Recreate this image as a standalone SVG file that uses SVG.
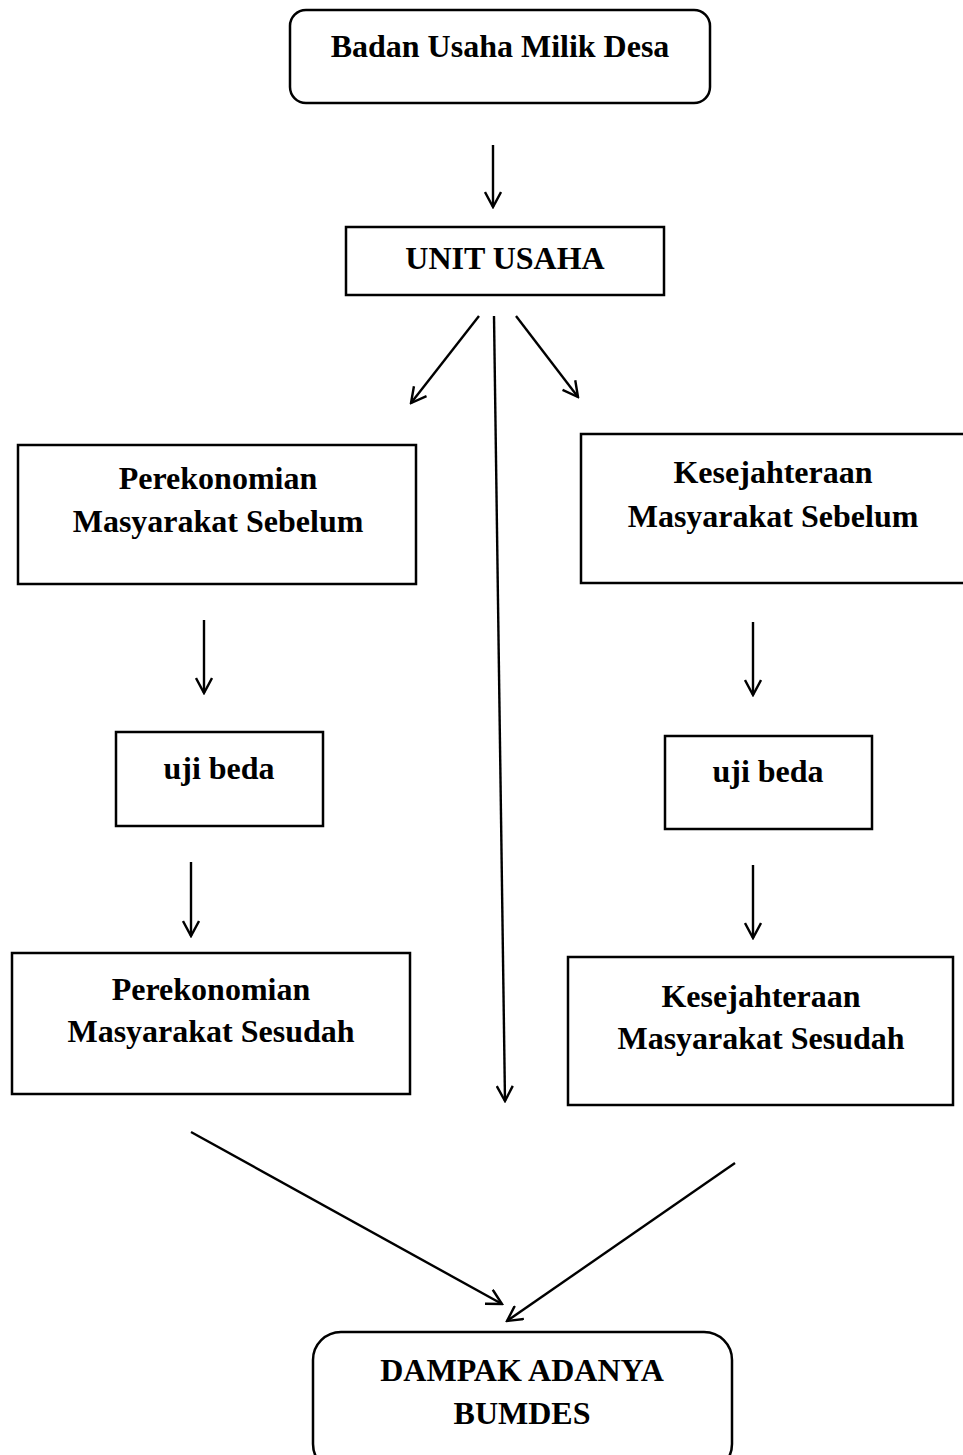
<svg xmlns="http://www.w3.org/2000/svg" width="963" height="1455" viewBox="0 0 963 1455">
<style>
.box{fill:#fff;stroke:#000;stroke-width:2.5}
.t{font-family:"Liberation Serif","Times New Roman",serif;font-weight:bold;font-size:32px;fill:#000;text-anchor:middle}
.c{stroke:#000;stroke-width:2.4;fill:none;marker-end:url(#ah)}
</style>
<defs>
<marker id="ah" viewBox="-16 -9 18 18" refX="0" refY="0" markerWidth="18" markerHeight="18" markerUnits="userSpaceOnUse" orient="auto">
<polyline points="-15,-8 0,0 -15,8" fill="none" stroke="#000" stroke-width="2.4"/>
</marker>
</defs>
<rect width="963" height="1455" fill="#fff"/>
<g id="connectors">
<line class="c" x1="493" y1="145" x2="493" y2="207"/>
<line class="c" x1="479" y1="316" x2="411" y2="403"/>
<line class="c" x1="494" y1="316" x2="505" y2="1101"/>
<line class="c" x1="516" y1="316" x2="578" y2="397"/>
<line class="c" x1="204" y1="620" x2="204" y2="693"/>
<line class="c" x1="753" y1="622" x2="753" y2="695"/>
<line class="c" x1="191" y1="862" x2="191" y2="936"/>
<line class="c" x1="753" y1="865" x2="753" y2="938"/>
<line class="c" x1="191" y1="1132" x2="502" y2="1304"/>
<line class="c" x1="735" y1="1163" x2="507" y2="1321"/>
</g>
<g id="n1"><rect class="box" x="290" y="10" width="420" height="93" rx="16"/><text class="t" x="500" y="57">Badan Usaha Milik Desa</text></g>
<g id="n2"><rect class="box" x="346" y="227" width="318" height="68"/><text class="t" x="505" y="269">UNIT USAHA</text></g>
<g id="n3"><rect class="box" x="18" y="445" width="398" height="139"/><text class="t" x="218" y="489">Perekonomian</text><text class="t" x="218" y="532">Masyarakat Sebelum</text></g>
<g id="n4"><rect class="box" x="581" y="434" width="390" height="149"/><text class="t" x="773" y="483">Kesejahteraan</text><text class="t" x="773" y="527">Masyarakat Sebelum</text></g>
<g id="n5"><rect class="box" x="116" y="732" width="207" height="94"/><text class="t" x="219" y="779">uji beda</text></g>
<g id="n6"><rect class="box" x="665" y="736" width="207" height="93"/><text class="t" x="768" y="782">uji beda</text></g>
<g id="n7"><rect class="box" x="12" y="953" width="398" height="141"/><text class="t" x="211" y="1000">Perekonomian</text><text class="t" x="211" y="1042">Masyarakat Sesudah</text></g>
<g id="n8"><rect class="box" x="568" y="957" width="385" height="148"/><text class="t" x="761" y="1007">Kesejahteraan</text><text class="t" x="761" y="1049">Masyarakat Sesudah</text></g>
<g id="n9"><rect class="box" x="313" y="1332" width="419" height="140" rx="28"/><text class="t" x="522" y="1381">DAMPAK ADANYA</text><text class="t" x="522" y="1424">BUMDES</text></g>
</svg>
